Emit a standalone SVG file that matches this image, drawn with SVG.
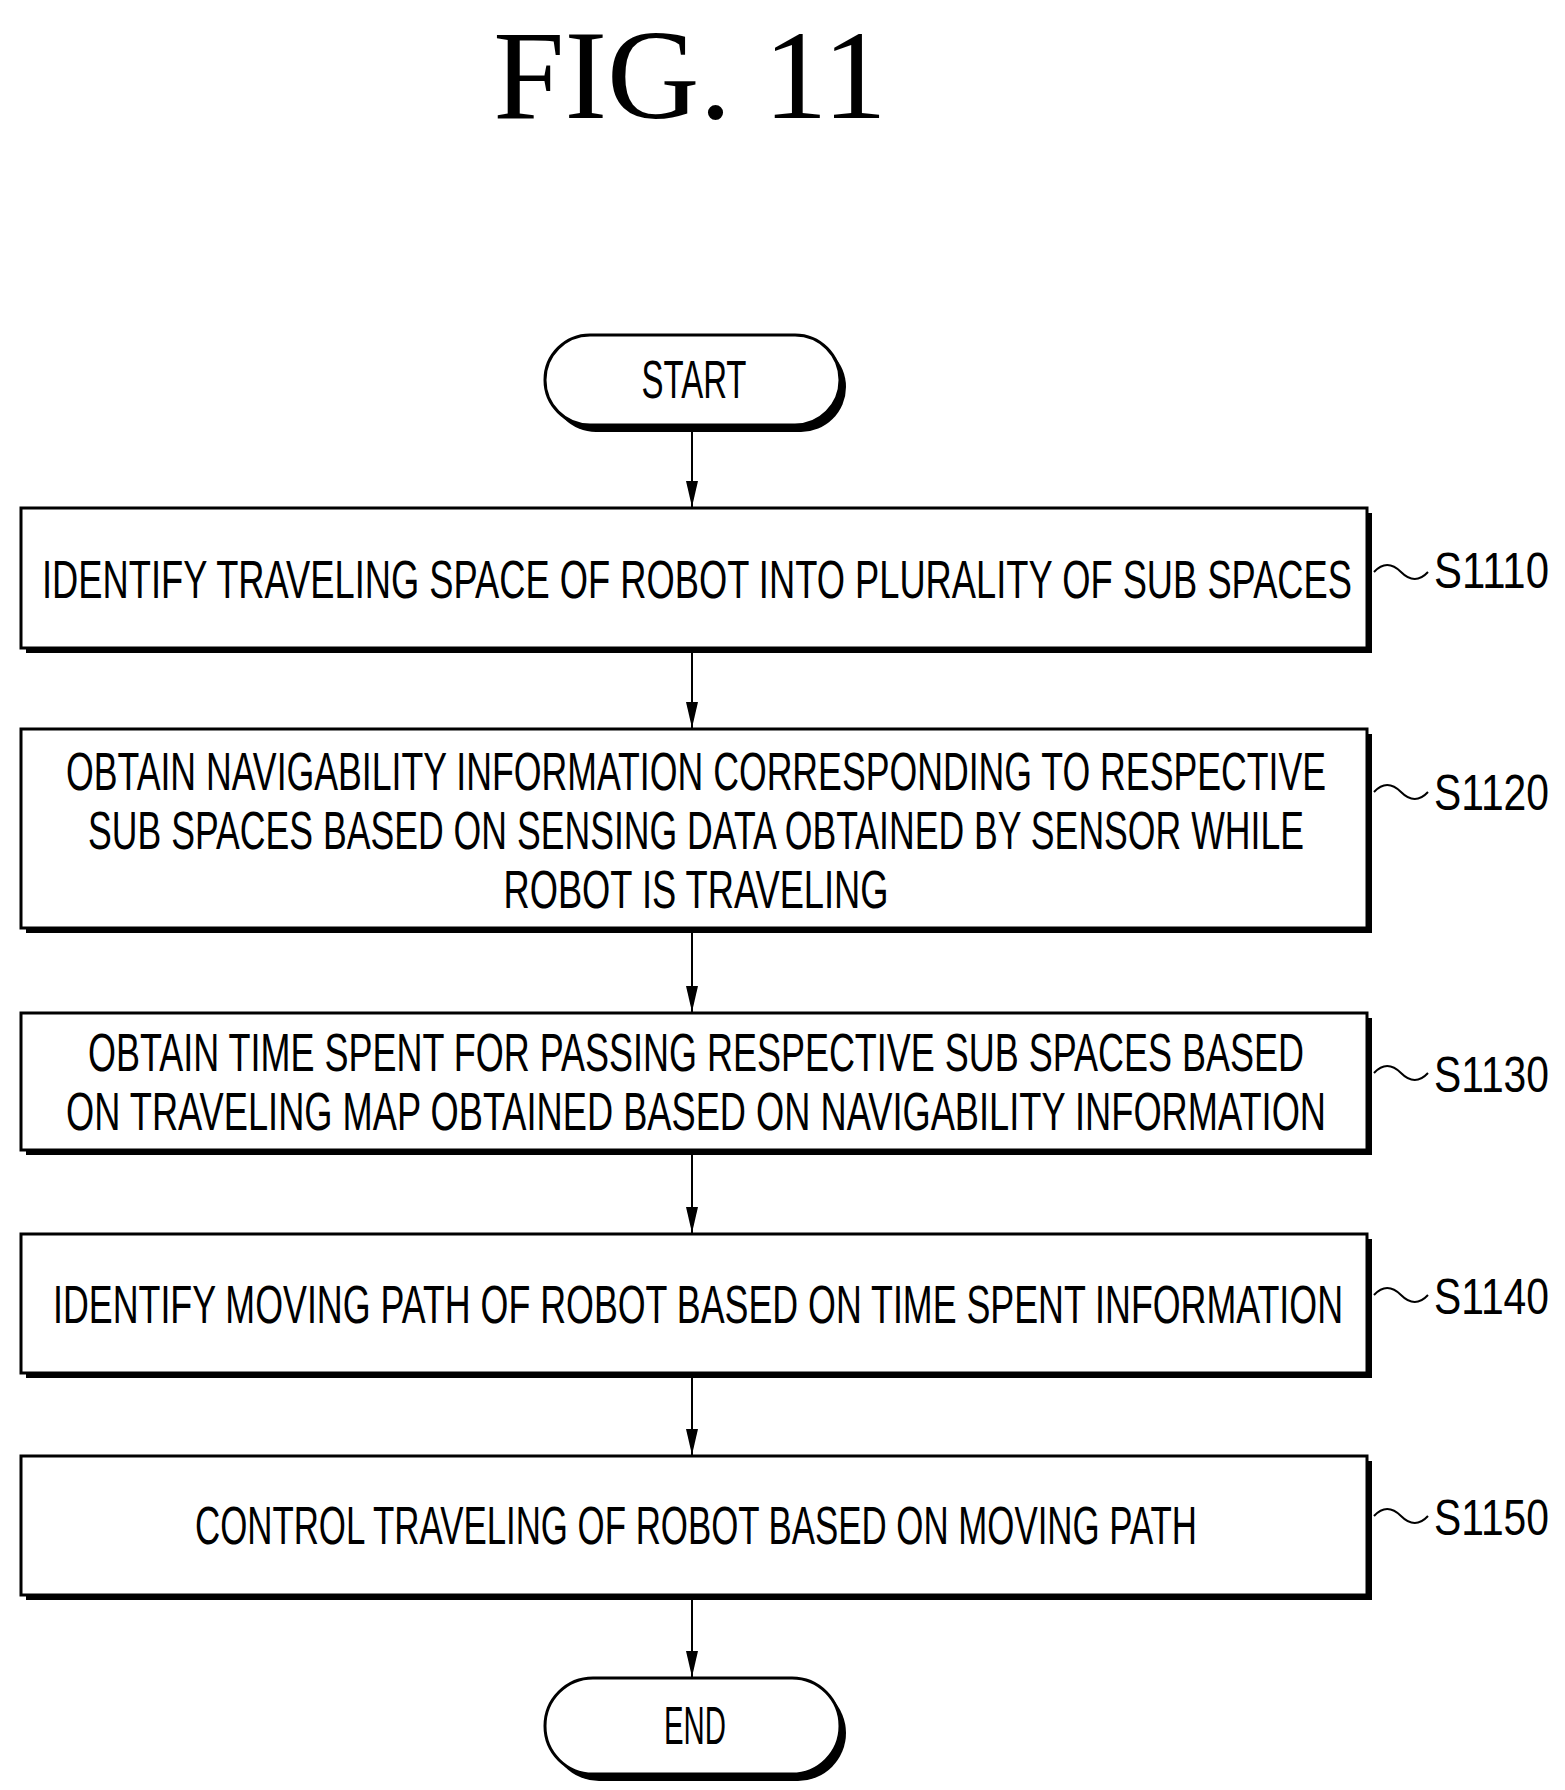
<svg xmlns="http://www.w3.org/2000/svg" width="1565" height="1790" viewBox="0 0 1565 1790">
<style>
.b{fill:#fff;stroke:#000;stroke-width:3}
.s{fill:#000}
.t{font-family:"Liberation Sans",Arial,sans-serif;font-size:54px;fill:#000;text-anchor:middle}
.l{font-family:"Liberation Sans",Arial,sans-serif;font-size:50px;fill:#000}
.c{stroke:#000;stroke-width:2;fill:none}
.w{stroke:#000;stroke-width:2;fill:none}
</style>
<defs><marker id="a" markerWidth="26" markerHeight="12" refX="26" refY="6" orient="auto" markerUnits="userSpaceOnUse"><path d="M0,0 L26,6 L0,12 Z" fill="#000"/></marker></defs>
<rect width="1565" height="1790" fill="#fff"/>
<text x="690" y="118" font-family="Liberation Serif,serif" font-size="128" text-anchor="middle">FIG. 11</text>
<g id="start"><rect x="551" y="342" width="295" height="90" rx="45" class="s"/><rect x="545" y="335" width="295" height="90" rx="45" class="b"/><text class="t" x="694" y="398" textLength="105" lengthAdjust="spacingAndGlyphs">START</text></g>
<g id="s1110"><rect x="26" y="513" width="1346" height="140" class="s"/><rect x="21" y="508" width="1346" height="140" class="b"/><text class="t" x="697" y="598" textLength="1310" lengthAdjust="spacingAndGlyphs">IDENTIFY TRAVELING SPACE OF ROBOT INTO PLURALITY OF SUB SPACES</text><path class="w" d="M1374,572 q13,-14 27,0 t27,0"/><text class="l" x="1434" y="588" textLength="115" lengthAdjust="spacingAndGlyphs">S1110</text></g>
<g id="s1120"><rect x="26" y="734" width="1346" height="199" class="s"/><rect x="21" y="729" width="1346" height="199" class="b"/><text class="t" x="696" y="790" textLength="1260" lengthAdjust="spacingAndGlyphs">OBTAIN NAVIGABILITY INFORMATION CORRESPONDING TO RESPECTIVE</text><text class="t" x="696" y="849" textLength="1216" lengthAdjust="spacingAndGlyphs">SUB SPACES BASED ON SENSING DATA OBTAINED BY SENSOR WHILE</text><text class="t" x="696" y="908" textLength="385" lengthAdjust="spacingAndGlyphs">ROBOT IS TRAVELING</text><path class="w" d="M1374,792 q13,-14 27,0 t27,0"/><text class="l" x="1434" y="810" textLength="115" lengthAdjust="spacingAndGlyphs">S1120</text></g>
<g id="s1130"><rect x="26" y="1018" width="1346" height="137" class="s"/><rect x="21" y="1013" width="1346" height="137" class="b"/><text class="t" x="696" y="1071" textLength="1216" lengthAdjust="spacingAndGlyphs">OBTAIN TIME SPENT FOR PASSING RESPECTIVE SUB SPACES BASED</text><text class="t" x="696" y="1130" textLength="1260" lengthAdjust="spacingAndGlyphs">ON TRAVELING MAP OBTAINED BASED ON NAVIGABILITY INFORMATION</text><path class="w" d="M1374,1073 q13,-14 27,0 t27,0"/><text class="l" x="1434" y="1092" textLength="115" lengthAdjust="spacingAndGlyphs">S1130</text></g>
<g id="s1140"><rect x="26" y="1239" width="1346" height="139" class="s"/><rect x="21" y="1234" width="1346" height="139" class="b"/><text class="t" x="698" y="1323" textLength="1290" lengthAdjust="spacingAndGlyphs">IDENTIFY MOVING PATH OF ROBOT BASED ON TIME SPENT INFORMATION</text><path class="w" d="M1374,1295 q13,-14 27,0 t27,0"/><text class="l" x="1434" y="1314" textLength="115" lengthAdjust="spacingAndGlyphs">S1140</text></g>
<g id="s1150"><rect x="26" y="1461" width="1346" height="139" class="s"/><rect x="21" y="1456" width="1346" height="139" class="b"/><text class="t" x="696" y="1544" textLength="1002" lengthAdjust="spacingAndGlyphs">CONTROL TRAVELING OF ROBOT BASED ON MOVING PATH</text><path class="w" d="M1374,1516 q13,-14 27,0 t27,0"/><text class="l" x="1434" y="1535" textLength="115" lengthAdjust="spacingAndGlyphs">S1150</text></g>
<g id="end"><rect x="551" y="1685" width="295" height="96" rx="48" class="s"/><rect x="545" y="1678" width="295" height="96" rx="48" class="b"/><text class="t" x="695" y="1744" textLength="62" lengthAdjust="spacingAndGlyphs">END</text></g>
<g id="connectors">
<line class="c" x1="692" y1="432" x2="692" y2="507" marker-end="url(#a)"/>
<line class="c" x1="692" y1="653" x2="692" y2="728" marker-end="url(#a)"/>
<line class="c" x1="692" y1="933" x2="692" y2="1012" marker-end="url(#a)"/>
<line class="c" x1="692" y1="1155" x2="692" y2="1233" marker-end="url(#a)"/>
<line class="c" x1="692" y1="1378" x2="692" y2="1455" marker-end="url(#a)"/>
<line class="c" x1="692" y1="1600" x2="692" y2="1677" marker-end="url(#a)"/>
</g>
</svg>
